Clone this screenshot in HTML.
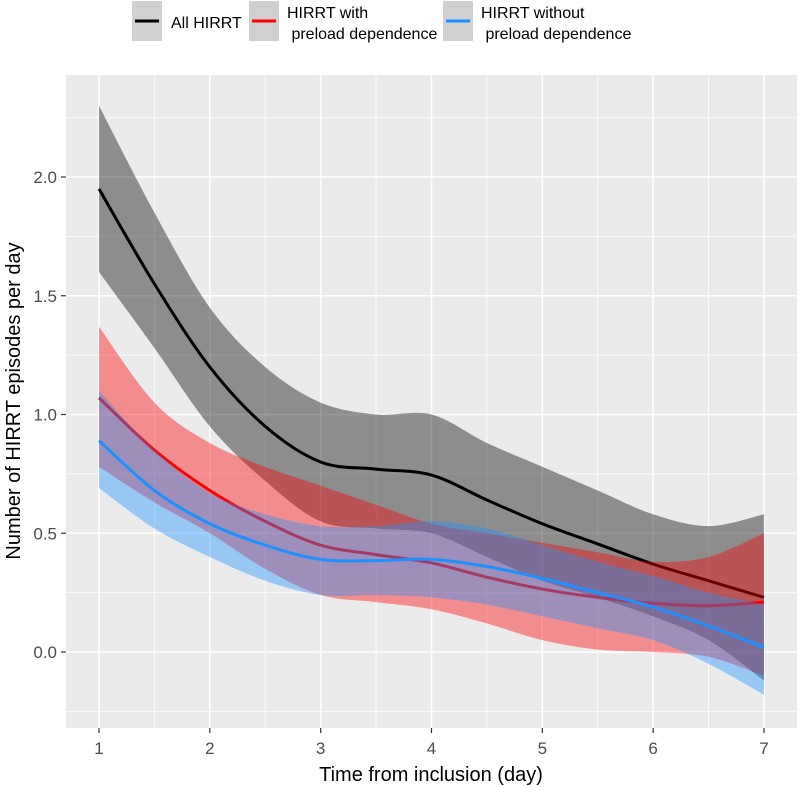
<!DOCTYPE html>
<html><head><meta charset="utf-8"><style>
html,body{margin:0;padding:0;background:#fff;}
svg{display:block;font-family:"Liberation Sans",sans-serif;}
</style></head><body>
<svg id="s" width="799" height="787" xmlns="http://www.w3.org/2000/svg">
<rect x="0" y="0" width="799" height="787" fill="#fff"/>
<rect x="66" y="75" width="731" height="653" fill="#ebebeb"/>
<g id="grid"></g>
<g id="data"></g>
<g fill="#4d4d4d" font-size="17" text-anchor="end" id="yt"></g>
<g fill="#4d4d4d" font-size="17" text-anchor="middle" id="xt"></g>
<text x="431" y="781" font-size="20" text-anchor="middle" fill="#000">Time from inclusion (day)</text>
<text transform="translate(20,401) rotate(-90)" font-size="20" text-anchor="middle" fill="#000">Number of HIRRT episodes per day</text>
<g>
<rect x="132" y="1" width="30" height="40" fill="#d0d0d0"/>
<line x1="135" y1="21" x2="159" y2="21" stroke="#000" stroke-width="3"/>
<text x="171" y="28" font-size="16">All HIRRT</text>
<rect x="249" y="1" width="30" height="40" fill="#d0d0d0"/>
<line x1="252" y1="21" x2="276" y2="21" stroke="#ff0000" stroke-width="3"/>
<text x="287" y="18" font-size="16">HIRRT with</text>
<text x="287" y="39" font-size="16" xml:space="preserve"> preload dependence</text>
<rect x="443" y="1" width="30" height="40" fill="#d0d0d0"/>
<line x1="446" y1="21" x2="470" y2="21" stroke="#1e90ff" stroke-width="3"/>
<text x="481" y="18" font-size="16">HIRRT without</text>
<text x="481" y="39" font-size="16" xml:space="preserve"> preload dependence</text>
</g>
</svg>
<script>
var NS="http://www.w3.org/2000/svg";
function X(v){return 99+(v-1)*110.83;}
function Y(v){return 652-v*237.5;}
function el(p,t,a){var e=document.createElementNS(NS,t);for(var k in a)e.setAttribute(k,a[k]);p.appendChild(e);return e;}
var g=document.getElementById('grid');
for(var v=-0.25;v<=2.3;v+=0.25){var y=Y(v);if(y<75||y>728)continue;var maj=Math.abs(v*2-Math.round(v*2))<1e-6;
el(g,'line',{x1:66,x2:797,y1:y,y2:y,stroke:'#fff','stroke-width':maj?1.6:0.8});}
for(var v=1;v<=7.01;v+=0.5){var x=X(v);var maj=Math.abs(v-Math.round(v))<1e-6;
el(g,'line',{x1:x,x2:x,y1:75,y2:728,stroke:'#fff','stroke-width':maj?1.6:0.8});}
var yt=document.getElementById('yt');
[0,0.5,1,1.5,2].forEach(function(v){var y=Y(v);el(yt,'line',{x1:61,x2:66,y1:y,y2:y,stroke:'#333','stroke-width':1.2});
var t=el(yt,'text',{x:57,y:y+6});t.textContent=v.toFixed(1);});
var xt=document.getElementById('xt');
for(var i=1;i<=7;i++){var x=X(i);el(xt,'line',{x1:x,x2:x,y1:728,y2:733,stroke:'#333','stroke-width':1.2});
var t=el(xt,'text',{x:x,y:754});t.textContent=i;}
var xs=[1,1.5,2,2.5,3,3.5,4,4.5,5,5.5,6,6.5,7];
function pts(a){return a.map(function(v,i){return [X(xs[i]),Y(v)];});}
function cr(p){var d='';for(var i=0;i<p.length-1;i++){var p0=p[i-1]||p[i],p1=p[i],p2=p[i+1],p3=p[i+2]||p[i+1];
var c1=[p1[0]+(p2[0]-p0[0])/6,p1[1]+(p2[1]-p0[1])/6],c2=[p2[0]-(p3[0]-p1[0])/6,p2[1]-(p3[1]-p1[1])/6];
d+=' C'+c1[0]+','+c1[1]+' '+c2[0]+','+c2[1]+' '+p2[0]+','+p2[1];}return d;}
function line(a){var p=pts(a);return 'M'+p[0][0]+','+p[0][1]+cr(p);}
function band(u,l){var pu=pts(u),pl=pts(l).reverse();return 'M'+pu[0][0]+','+pu[0][1]+cr(pu)+' L'+pl[0][0]+','+pl[0][1]+cr(pl)+'Z';}
var S=[
{c:'#000',m:[1.95,1.55,1.2,0.95,0.8,0.77,0.745,0.64,0.54,0.455,0.37,0.3,0.23],
u:[2.3,1.85,1.45,1.2,1.05,1.0,1.0,0.88,0.78,0.68,0.58,0.53,0.58],
l:[1.6,1.28,0.95,0.72,0.55,0.52,0.5,0.4,0.3,0.23,0.15,0.05,-0.12]},
{c:'#ff0000',m:[1.07,0.85,0.68,0.55,0.45,0.41,0.375,0.315,0.265,0.23,0.205,0.195,0.21],
u:[1.37,1.05,0.88,0.78,0.7,0.62,0.54,0.5,0.46,0.42,0.38,0.4,0.5],
l:[0.78,0.63,0.5,0.35,0.24,0.21,0.18,0.12,0.05,0.01,0.0,-0.02,-0.1]},
{c:'#1e90ff',m:[0.89,0.68,0.54,0.45,0.39,0.385,0.39,0.36,0.31,0.25,0.19,0.11,0.02],
u:[1.1,0.85,0.67,0.58,0.53,0.53,0.55,0.52,0.45,0.38,0.32,0.25,0.2],
l:[0.69,0.52,0.4,0.3,0.24,0.24,0.23,0.2,0.15,0.1,0.05,-0.05,-0.18]}];
var d=document.getElementById('data');
S.forEach(function(s){el(d,'path',{d:band(s.u,s.l),fill:s.c,'fill-opacity':0.4});
el(d,'path',{d:line(s.m),fill:'none',stroke:s.c,'stroke-width':3});});
</script>
</body></html>
